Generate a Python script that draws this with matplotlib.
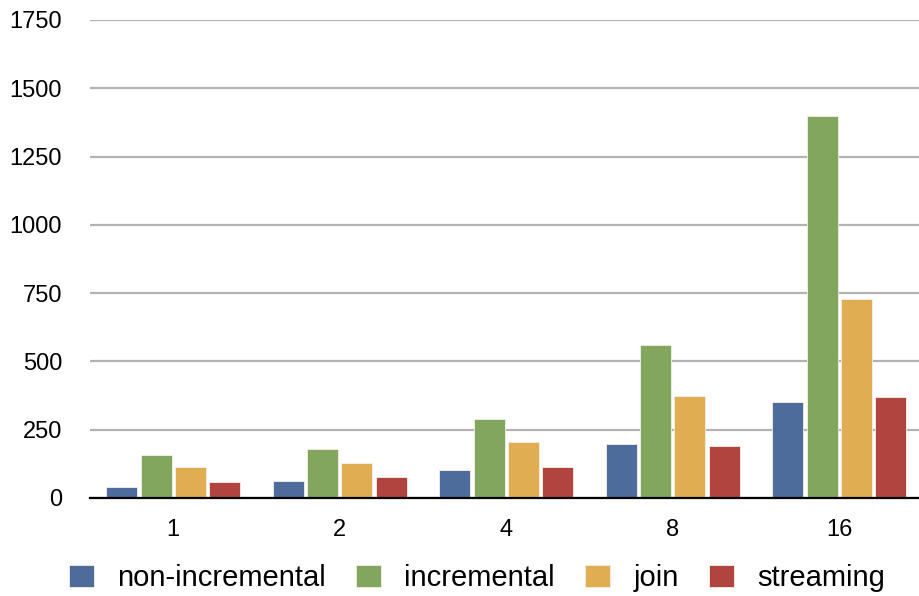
import matplotlib
matplotlib.use("Agg")
import matplotlib.pyplot as plt
import numpy as np

plt.rcParams['font.family'] = ['Liberation Sans', 'DejaVu Sans']

categories = ["1", "2", "4", "8", "16"]
series_names = ["non-incremental", "incremental", "join", "streaming"]
non_incremental = [40, 63, 102, 198, 350]
incremental = [157, 181, 289, 561, 1398]
join = [113, 129, 206, 372, 728]
streaming = [57, 77, 112, 191, 368]
y_ticks = [0, 250, 500, 750, 1000, 1250, 1500, 1750]

colors = ["#4d6c9c", "#82a65e", "#e1ad53", "#b2443f"]
values = [non_incremental, incremental, join, streaming]

fig = plt.figure(figsize=(9.19, 5.96), dpi=100)
ax = fig.add_axes([90/919, 98/596, 832.5/919, 478/596])

x = np.arange(len(categories))
step = 0.206
width = 0.186
handles = []
for i, (vals, c, name) in enumerate(zip(values, colors, series_names)):
    b = ax.bar(x + (i - 1.5) * step, vals, width, color=c, edgecolor="#f4f0e8",
               linewidth=0.6, label=name, zorder=3)
    handles.append(b)

ax.set_xlim(-0.5, len(categories) - 0.5)
ax.set_ylim(0, 1750)
ax.set_yticks(y_ticks)
ax.set_yticklabels([str(v) for v in y_ticks])
ax.set_xticks(x)
ax.set_xticklabels(categories)
ax.yaxis.grid(True, color="#b3b3b3", linewidth=1.6, zorder=0)
ax.set_axisbelow(True)
for s in ["top", "right", "left"]:
    ax.spines[s].set_visible(False)
ax.spines["bottom"].set_color("black")
ax.spines["bottom"].set_linewidth(1.6)
ax.spines["bottom"].set_zorder(4)
ax.tick_params(axis="y", length=0, pad=20, labelsize=17)
ax.tick_params(axis="x", length=0, pad=15, labelsize=17)

fig.legend(handles=handles, labels=series_names, loc="center",
           bbox_to_anchor=(477/919, 1 - 578/596), ncol=4, frameon=False,
           fontsize=21, handlelength=0.86, handleheight=0.8, handletextpad=0.79,
           columnspacing=1.03)

fig.savefig("out.png", dpi=100)
